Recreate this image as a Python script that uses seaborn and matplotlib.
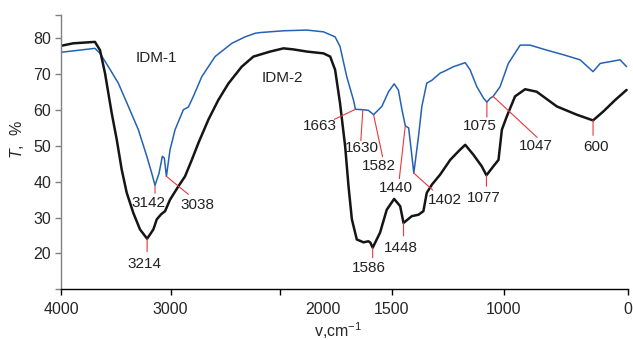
import numpy as np
import pandas as pd
import matplotlib
matplotlib.use("Agg")
import matplotlib.pyplot as plt
import seaborn as sns

# IR spectra (wavenumber, cm-1 / transmittance, %)
wn_idm2 = [4000, 3890, 3690, 3644, 3598, 3537, 3491, 3446, 3400, 3340, 3279, 3214,
           3157, 3126, 3087, 3050, 3005, 2929, 2868, 2806, 2746, 2655, 2564, 2472,
           2350, 2244, 2091, 1985, 1940, 1880, 1806, 1776, 1754, 1732, 1709, 1694,
           1679, 1657, 1627, 1605, 1596, 1586, 1553, 1523, 1490, 1463, 1448, 1411,
           1381, 1359, 1344, 1321, 1284, 1239, 1202, 1172, 1135, 1098, 1077, 1046,
           1023, 1008, 986, 949, 904, 852, 762, 673, 600, 554, 501, 450]
t_idm2 = [77.9, 78.6, 79.0, 76.7, 70.2, 59.1, 51.7, 43.4, 36.9, 31.3, 26.7, 24.1,
          26.7, 29.5, 30.9, 31.8, 35.0, 38.7, 41.5, 46.1, 50.8, 57.3, 62.8, 67.4,
          72.1, 74.9, 76.3, 77.2, 76.9, 76.3, 75.8, 74.9, 71.2, 61.9, 49.8, 38.7,
          29.5, 23.9, 23.1, 23.4, 23.0, 21.6, 25.8, 32.2, 35.2, 33.2, 28.5, 30.4,
          30.8, 31.8, 36.9, 39.2, 42.0, 46.1, 48.5, 50.3, 47.5, 44.3, 41.8, 44.3,
          46.1, 54.5, 58.2, 63.8, 65.8, 65.1, 61.0, 58.7, 57.1, 59.6, 62.8, 65.6]

wn_idm1 = [4000, 3690, 3644, 3568, 3477, 3385, 3294, 3217, 3172, 3142, 3105, 3075,
           3057, 3038, 3005, 2959, 2883, 2838, 2792, 2715, 2594, 2441, 2320, 2228,
           2183, 1985, 1880, 1806, 1754, 1732, 1702, 1672, 1663, 1630, 1605, 1582,
           1545, 1515, 1490, 1471, 1455, 1440, 1425, 1412, 1402, 1381, 1366, 1344,
           1321, 1284, 1269, 1224, 1172, 1150, 1120, 1090, 1075, 1060, 1047, 1016,
           979, 926, 882, 807, 732, 658, 600, 568, 523, 479, 450]
t_idm1 = [76.1, 77.2, 75.8, 72.1, 67.5, 61.0, 54.5, 47.1, 42.4, 39.0, 42.4, 47.1,
          46.6, 41.5, 48.9, 54.5, 60.1, 60.8, 63.8, 69.3, 74.9, 78.6, 80.4, 81.4,
          81.6, 82.1, 82.3, 81.8, 80.4, 77.7, 69.3, 62.8, 60.2, 60.1, 59.9, 58.7,
          61.0, 65.1, 67.3, 65.6, 60.1, 55.6, 55.0, 48.0, 42.4, 52.6, 61.0, 67.5,
          68.3, 70.3, 70.7, 72.1, 73.2, 71.2, 66.5, 63.3, 62.2, 63.3, 63.8, 66.5,
          73.0, 78.1, 78.1, 76.7, 75.4, 74.0, 70.7, 73.0, 73.5, 74.0, 72.1]

# peak labels: (series, wavenumber, line end offset px, label offset px)
peaks = [
    ("IDM-2", 3214, (0, 13), (-3, 25)),
    ("IDM-1", 3142, (0, 8), (-7, 18)),
    ("IDM-1", 3038, (22, 18), (31, 29)),
    ("IDM-1", 1663, (-21, 10), (-36, 17)),
    ("IDM-1", 1630, (-2, 31), (-1, 38)),
    ("IDM-1", 1582, (9, 42), (5, 51)),
    ("IDM-1", 1440, (-6, 53), (-9, 62)),
    ("IDM-1", 1402, (19, 17), (31, 27)),
    ("IDM-2", 1448, (0, 13), (-3, 25)),
    ("IDM-2", 1586, (0, 10), (-4, 20)),
    ("IDM-1", 1075, (0, 15), (-7, 24)),
    ("IDM-1", 1047, (44, 41), (43, 50)),
    ("IDM-2", 1077, (0, 11), (-3, 23)),
    ("IDM-2", 600, (0, 15), (3, 27)),
]

df = pd.concat([
    pd.DataFrame({"wn": wn_idm1, "T": t_idm1, "sample": "IDM-1"}),
    pd.DataFrame({"wn": wn_idm2, "T": t_idm2, "sample": "IDM-2"}),
])

sns.set_style("ticks")
plt.rcParams["font.family"] = ["Liberation Sans", "DejaVu Sans"]
plt.rcParams["mathtext.fontset"] = "custom"
plt.rcParams["mathtext.rm"] = "Liberation Sans"
plt.rcParams["mathtext.it"] = "Liberation Sans:italic"

fig = plt.figure(figsize=(6.33, 3.40), dpi=100)
ax = fig.add_axes([61 / 633, (340 - 289.3) / 340, 566.7 / 633, 274.3 / 340])

palette = {"IDM-1": "#2462b3", "IDM-2": "#151515"}
sns.lineplot(data=df, x="wn", y="T", hue="sample", palette=palette,
             estimator=None, sort=False, legend=False, ax=ax)
for line in ax.lines:
    if line.get_color() == palette["IDM-2"]:
        line.set_linewidth(1.8)
    else:
        line.set_linewidth(1.1)

# spectrum axis: 2000-0 region stretched x2
k = 2.04
def fwd(w):
    w = np.asarray(w, float)
    return np.where(w >= 2000, w, 2000 - (2000 - w) * k)
def inv(u):
    u = np.asarray(u, float)
    return np.where(u >= 2000, u, 2000 - (2000 - u) / k)
ax.set_xscale("function", functions=(fwd, inv))
ax.set_xlim(4000, 445)
ax.set_ylim(10, 86.5)

ax.set_xticks([4000, 3000, 2000, 1500, 1000, 445])
ax.set_xticklabels(["4000", "3000", "", "1500", "1000", "0"])
ax.set_xticks([1808], minor=True)
ax.set_xticklabels(["2000"], minor=True)
ax.tick_params(axis="x", which="major", length=4, width=1, pad=5, labelsize=11.5, color="black")
ax.tick_params(axis="x", which="minor", length=0, pad=9, labelsize=11.5)
yt = [10, 20, 30, 40, 50, 60, 70, 80, 86.5]
ax.set_yticks(yt)
ax.set_yticklabels(["", "20", "30", "40", "50", "60", "70", "80", ""])
ax.tick_params(axis="y", length=4, width=1, pad=3, labelsize=11.5, color="#808080")

sns.despine(ax=ax)
ax.spines["left"].set_color("#808080")
ax.spines["left"].set_linewidth(1)
ax.spines["bottom"].set_color("black")
ax.spines["bottom"].set_linewidth(1)

ax.set_xlabel(r"v,cm$^{-1}$", fontsize=11.5)
ax.xaxis.set_label_coords(0.489, -0.112)
ax.set_ylabel(r"$T$,  %", fontsize=11.5)
ax.yaxis.set_label_coords(-0.062, 0.545)

series = {"IDM-1": (wn_idm1, t_idm1), "IDM-2": (wn_idm2, t_idm2)}
for name, w, (ldx, ldy), (tdx, tdy) in peaks:
    xs, ys = series[name]
    y = np.interp(w, xs[::-1], ys[::-1])
    ax.annotate("", xy=(w, y), xytext=(ldx, -ldy), textcoords="offset pixels",
                arrowprops=dict(arrowstyle="-", color="#e8383d", lw=0.8,
                                shrinkA=0, shrinkB=0))
    ax.annotate(str(w), xy=(w, y), xytext=(tdx, -tdy), textcoords="offset pixels",
                ha="center", va="center", fontsize=11, color="#222222")

ax.text(3128, 74.5, "IDM-1", ha="center", va="center", fontsize=11, color="#222222")
ax.text(1990, 68.9, "IDM-2", ha="center", va="center", fontsize=11, color="#222222")

fig.savefig("out.png", dpi=100)
